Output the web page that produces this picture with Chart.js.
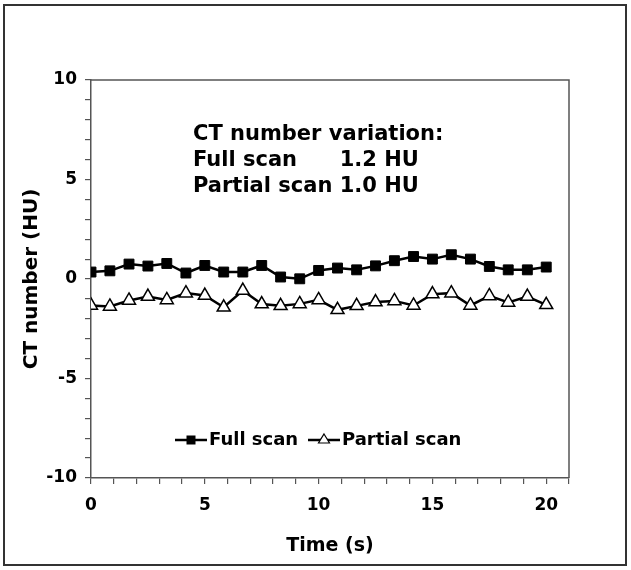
<!DOCTYPE html>
<html>
<head>
<meta charset="utf-8">
<script src="https://cdn.jsdelivr.net/npm/chart.js@4.4.0/dist/chart.umd.min.js"></script>
<style>
  body { margin: 0; background: #fff; }
  #wrap { position: relative; width: 631px; height: 570px; }
  #frame { position: absolute; left: 3px; top: 4px; width: 624px; height: 562px; border: 2px solid #333; box-sizing: border-box; pointer-events: none; }
  canvas { position: absolute; left: 0; top: 0; }
</style>
</head>
<body>
<div id="wrap">
  <canvas id="chart" width="631" height="570"></canvas>
  <div id="frame"></div>
</div>
<script>
// sampling times (s)
var times = [0, 0.83, 1.67, 2.5, 3.33, 4.17, 5, 5.83, 6.67, 7.5, 8.33, 9.17, 10,
  10.83, 11.67, 12.5, 13.33, 14.17, 15, 15.83, 16.67, 17.5, 18.33, 19.17, 20];
// CT number (HU)
var fullScan = [0.35, 0.41, 0.75, 0.65, 0.78, 0.30, 0.68, 0.35, 0.35, 0.68, 0.10, 0.01, 0.43,
  0.55, 0.46, 0.66, 0.92, 1.13, 1.00, 1.22, 1.00, 0.63, 0.46, 0.46, 0.60];
var partialScan = [-1.33, -1.38, -1.08, -0.88, -1.05, -0.71, -0.83, -1.42, -0.58, -1.26, -1.35, -1.25, -1.05,
  -1.55, -1.35, -1.16, -1.10, -1.33, -0.76, -0.71, -1.33, -0.85, -1.18, -0.88, -1.30];
var xLabels = [0, 5, 10, 15, 20];
var yLabels = [-10, -5, 0, 5, 10];
var noteLines = ["CT number variation:", ["Full scan", "1.2 HU"], ["Partial scan", "1.0 HU"]];

var FONT = "'DejaVu Sans', Verdana, sans-serif";

function pts(ys) {
  return ys.map(function (y, i) { return { x: times[i], y: y }; });
}

// closes the plot box and draws the note + legend inside it
var plotExtras = {
  id: "plotExtras",
  beforeDatasetsDraw: function (chart) {
    var a = chart.chartArea, ctx = chart.ctx;
    ctx.save();
    ctx.strokeStyle = "#555";
    ctx.lineWidth = 1.5;
    ctx.beginPath();
    ctx.moveTo(a.left, a.top);
    ctx.lineTo(a.right, a.top);
    ctx.lineTo(a.right, a.bottom);
    ctx.stroke();
    ctx.restore();
  },
  afterDraw: function (chart) {
    var ctx = chart.ctx;
    ctx.save();
    ctx.fillStyle = "#000";
    ctx.textBaseline = "middle";
    ctx.font = "bold 21px " + FONT;
    var x0 = 193;
    ctx.fillText(noteLines[0], x0, 135);
    var tab = x0 + ctx.measureText(noteLines[2][0] + " ").width;
    ctx.fillText(noteLines[1][0], x0, 161);
    ctx.fillText(noteLines[1][1], tab, 161);
    ctx.fillText(noteLines[2][0], x0, 187);
    ctx.fillText(noteLines[2][1], tab, 187);

    // legend
    var ly = 440;
    ctx.font = "bold 18px " + FONT;
    var items = [
      { x: 175, label: chart.data.datasets[0].label, style: "rect" },
      { x: 308, label: chart.data.datasets[1].label, style: "triangle" }
    ];
    items.forEach(function (it) {
      ctx.strokeStyle = "#000";
      ctx.lineWidth = 2.5;
      ctx.beginPath();
      ctx.moveTo(it.x, ly);
      ctx.lineTo(it.x + 32, ly);
      ctx.stroke();
      var cx = it.x + 16;
      if (it.style === "rect") {
        ctx.fillStyle = "#000";
        ctx.fillRect(cx - 4.5, ly - 4.5, 9, 9);
      } else {
        ctx.fillStyle = "#fff";
        ctx.lineWidth = 1.2;
        ctx.beginPath();
        ctx.moveTo(cx, ly - 6);
        ctx.lineTo(cx + 5.5, ly + 3);
        ctx.lineTo(cx - 5.5, ly + 3);
        ctx.closePath();
        ctx.fill();
        ctx.stroke();
      }
      ctx.fillStyle = "#000";
      ctx.fillText(it.label, it.x + 34, ly);
    });
    ctx.restore();
  }
};

var ctx = document.getElementById("chart").getContext("2d");
var chart = new Chart(ctx, {
  type: "line",
  data: {
    datasets: [
      {
        label: "Full scan",
        data: pts(fullScan),
        borderColor: "#000",
        backgroundColor: "#000",
        borderWidth: 2.5,
        pointStyle: "rect",
        pointRadius: 7,
        pointBorderWidth: 1,
        tension: 0
      },
      {
        label: "Partial scan",
        data: pts(partialScan),
        borderColor: "#000",
        backgroundColor: "#fff",
        borderWidth: 2.5,
        pointStyle: "triangle",
        pointRadius: 7.5,
        pointBorderWidth: 1.5,
        tension: 0
      }
    ]
  },
  options: {
    responsive: false,
    animation: false,
    layout: { padding: { left: 0, top: 80, right: 62, bottom: 0 } },
    plugins: {
      legend: { display: false },
      tooltip: { enabled: false }
    },
    scales: {
      x: {
        type: "linear",
        min: 0,
        max: 21,
        afterFit: function (s) { s.height = 92; },
        ticks: {
          stepSize: 1,
          autoSkip: false,
          maxRotation: 0,
          padding: 11,
          color: "#000",
          font: { family: FONT, size: 17, weight: "bold" },
          callback: function (v) { return xLabels.indexOf(v) >= 0 ? String(v) : ""; }
        },
        grid: { drawOnChartArea: false, tickLength: 6, color: "#555", lineWidth: 1.2 },
        border: { color: "#555", width: 1.5 },
        title: {
          display: true,
          text: "Time (s)",
          color: "#000",
          font: { family: FONT, size: 19, weight: "bold" },
          padding: { top: 0, bottom: 13 }
        }
      },
      y: {
        min: -10,
        max: 10,
        afterFit: function (s) { s.width = 91; },
        ticks: {
          stepSize: 1,
          autoSkip: false,
          padding: 8,
          color: "#000",
          font: { family: FONT, size: 17, weight: "bold" },
          callback: function (v) { return yLabels.indexOf(v) >= 0 ? String(v) : ""; }
        },
        grid: { drawOnChartArea: false, tickLength: 6, color: "#555", lineWidth: 1.2 },
        border: { color: "#555", width: 1.5 },
        title: {
          display: true,
          text: "CT number (HU)",
          color: "#000",
          font: { family: FONT, size: 20, weight: "bold" },
          padding: { top: 20, bottom: 0 }
        }
      }
    }
  },
  plugins: [plotExtras]
});
</script>
</body>
</html>
